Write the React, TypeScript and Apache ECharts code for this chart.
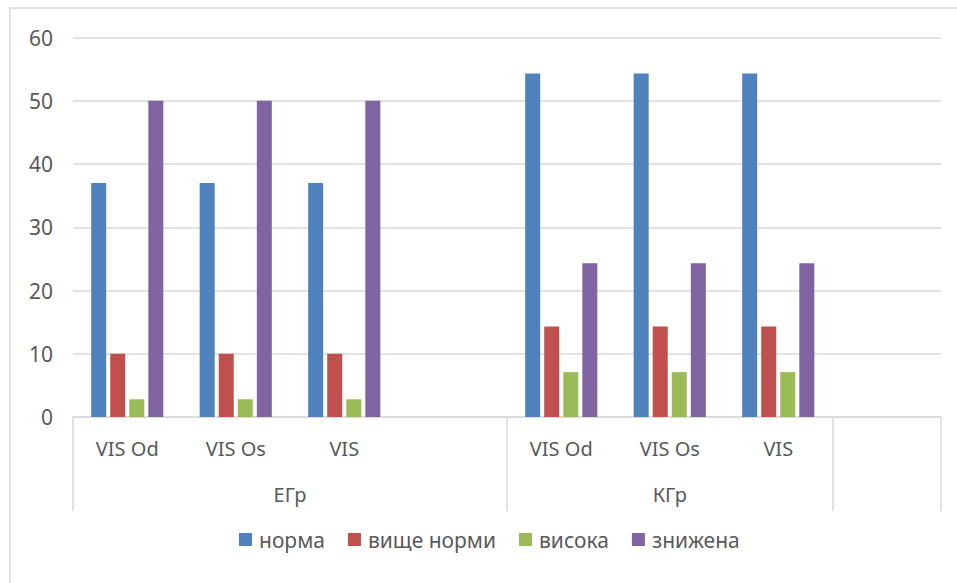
import React, { useEffect, useRef } from "react";
import * as echarts from "echarts";

const categories = ["VIS Od", "VIS Os", "VIS", "", "VIS Od", "VIS Os", "VIS", ""];
const groupNames = ["ЕГр", "КГр"];
const groupSpans: [number, number][] = [[0, 4], [4, 7]];
const seriesNames = ["норма", "вище норми", "висока", "знижена"];
const norma = [37, 37, 37, null, 54.3, 54.3, 54.3, null];
const vyshche = [10, 10, 10, null, 14.3, 14.3, 14.3, null];
const vysoka = [2.8, 2.8, 2.8, null, 7.1, 7.1, 7.1, null];
const znyzhena = [50, 50, 50, null, 24.3, 24.3, 24.3, null];
const colors = ["#4F81BD", "#C0504D", "#9BBB59", "#8064A2"];

export default function App() {
  const ref = useRef<HTMLDivElement>(null);
  useEffect(() => {
    document.body.style.margin = "0";
    const chart = echarts.init(ref.current!, null, { renderer: "svg" });
    const font = "Noto Sans";
    const grey = "#595959";
    const line = "#d9d9d9";
    const tickVals = Array.from(new Set([...groupSpans.flat(), categories.length])).sort((a, b) => a - b);
    const labelVals = groupSpans.map(([a, b]) => (a + b) / 2);
    const seriesData = [norma, vyshche, vysoka, znyzhena];
    chart.setOption({
      animation: false,
      textStyle: { fontFamily: font },
      graphic: [
        {
          type: "rect",
          shape: { x: 10, y: 8, width: 1000, height: 700 },
          style: { fill: "none", stroke: "#d9d9d9", lineWidth: 1.5 },
          silent: true,
        },
      ],
      grid: { left: 73, right: 16, top: 37.5, bottom: 166 },
      legend: {
        bottom: 28,
        left: 234,
        icon: "rect",
        itemWidth: 13,
        itemHeight: 13,
        itemGap: 23,
        textStyle: { color: grey, fontSize: 21, fontFamily: font, padding: [0, 0, 0, 2] },
        data: seriesNames,
      },
      xAxis: [
        {
          type: "category",
          data: categories,
          position: "bottom",
          axisLine: { show: true, lineStyle: { color: line, width: 1.5 } },
          axisTick: { show: false },
          axisLabel: { interval: 0, color: grey, fontSize: 20, margin: 21, fontFamily: font },
        },
        {
          type: "value",
          position: "bottom",
          min: 0,
          max: categories.length,
          axisLine: { show: false },
          splitLine: { show: false },
          axisTick: {
            show: true,
            customValues: tickVals,
            length: 94,
            lineStyle: { color: line, width: 1.5 },
          },
          axisLabel: {
            customValues: labelVals,
            color: grey,
            fontSize: 20,
            margin: 67,
            fontFamily: font,
            formatter: (v: number) => {
              const i = labelVals.indexOf(v);
              return i >= 0 ? groupNames[i] : "";
            },
          },
        },
      ],
      yAxis: {
        type: "value",
        min: 0,
        max: 60,
        interval: 10,
        axisLine: { show: false },
        axisTick: { show: false },
        splitLine: { lineStyle: { color: line, width: 1.5 } },
        axisLabel: { color: grey, fontSize: 21, margin: 20, fontFamily: font },
      },
      series: seriesNames.map((name, i) => ({
        name,
        type: "bar",
        xAxisIndex: 0,
        data: seriesData[i],
        barWidth: 15,
        barGap: "27%",
        itemStyle: { color: colors[i] },
      })),
    });
    return () => chart.dispose();
  }, []);
  return <div ref={ref} style={{ width: 957, height: 583 }} />;
}
